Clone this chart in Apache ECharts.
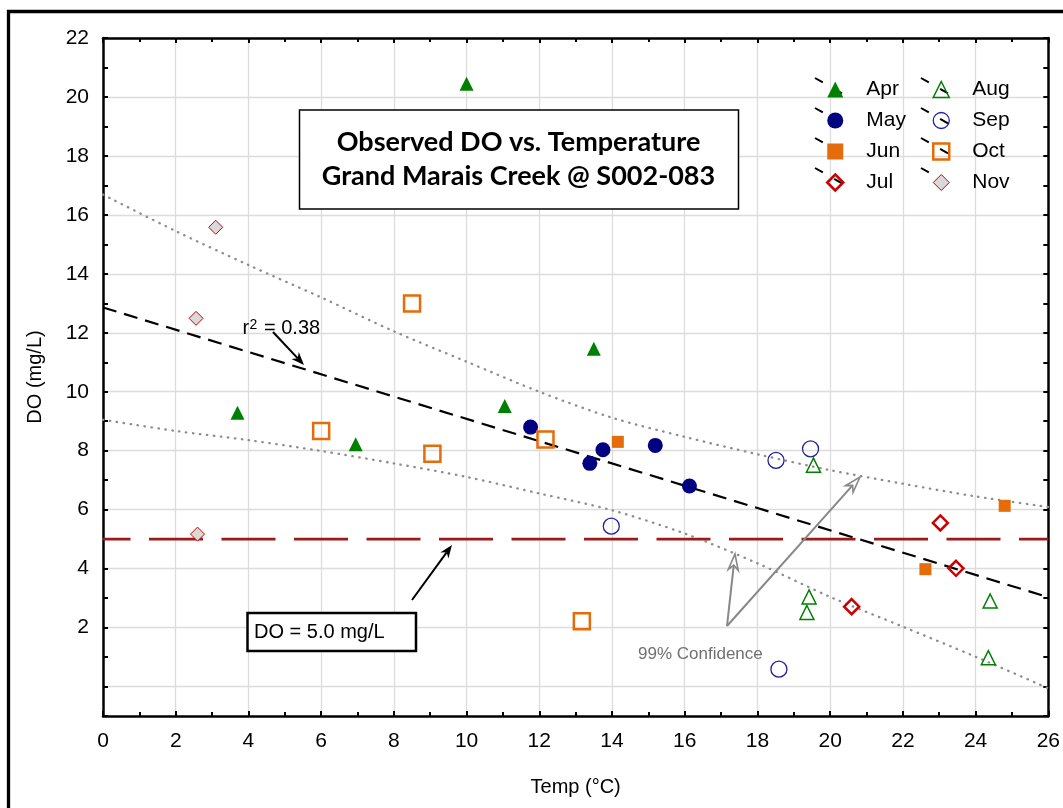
<!DOCTYPE html>
<html><head><meta charset="utf-8">
<script src="https://cdn.jsdelivr.net/npm/echarts@6/dist/echarts.min.js"></script>
<style>html,body{margin:0;padding:0;background:#fff}#c{width:1063px;height:808px}</style>
</head><body><div id="c"></div>
<script>
// ---- data ----
const xTicks = [0,2,4,6,8,10,12,14,16,18,20,22,24,26];
const yTickLabels = [2,4,6,8,10,12,14,16,18,20,22];
const aprData = [[10.0,20.45],[13.5,11.46],[11.05,9.52],[3.7,9.29],[6.95,8.22]];
const mayData = [[11.76,8.8],[13.75,8.03],[13.39,7.57],[15.19,8.18],[16.13,6.8]];
const junData = [[14.16,8.3],[22.62,3.98],[24.8,6.13]];
const julData = [[23.03,5.55],[23.46,4.01],[20.59,2.71]];
const augData = [[19.54,7.51],[19.42,3.04],[19.36,2.51],[24.4,2.9],[24.35,0.98]];
const sepData = [[18.51,7.67],[19.46,8.06],[13.98,5.44],[18.59,0.59]];
const octData = [[8.5,12.99],[6.0,8.67],[9.06,7.9],[12.17,8.38],[13.17,2.21]];
const novData = [[3.1,15.58],[2.56,12.49],[2.6,5.17]];
const regX = [0, 26];
const regY = [12.86, 3.03];
const bandX = [0,2,4,6,8,10,12,14,16,18,20,22,24,26];
const upperY = [16.69,15.45,14.3,13.2,12.05,11.02,10.0,9.12,8.47,7.88,7.34,6.88,6.45,6.09];
const lowerY = [9.05,8.67,8.36,7.99,7.57,7.11,6.55,5.98,5.19,4.18,3.04,2.03,1.01,-0.06];
const doLimitX = [0, 26];
const doLimitY = [5.0, 5.0];

const FONT = '"Liberation Sans", Arial, sans-serif';
const zip = (xs, ys) => xs.map((x, i) => [x, ys[i]]);

const months = [
  {name:'Apr', data:aprData, symbol:'triangle', size:14, style:{color:'#008000'}},
  {name:'May', data:mayData, symbol:'circle', size:15, style:{color:'#000080'}},
  {name:'Jun', data:junData, symbol:'rect', size:12, style:{color:'#E46C0A'}},
  {name:'Jul', data:julData, symbol:'diamond', size:15, style:{color:'rgba(0,0,0,0)', borderColor:'#CC0000', borderWidth:2.5}},
  {name:'Aug', data:augData, symbol:'triangle', size:14, style:{color:'rgba(0,0,0,0)', borderColor:'#008000', borderWidth:1.5}},
  {name:'Sep', data:sepData, symbol:'circle', size:16, style:{color:'rgba(0,0,0,0)', borderColor:'#22229a', borderWidth:1.3}},
  {name:'Oct', data:octData, symbol:'rect', size:16, style:{color:'rgba(0,0,0,0)', borderColor:'#E46C0A', borderWidth:2.5}},
  {name:'Nov', data:novData, symbol:'diamond', size:14, style:{color:'#D9D9D9', borderColor:'#CC0000', borderWidth:1}}
];

const chart = echarts.init(document.getElementById('c'));

const series = [
  {type:'line', name:'upper', data:zip(bandX, upperY), smooth:0.3, symbol:'none', z:2, silent:true,
   lineStyle:{color:'#8c8c8c', width:2.3, type:[0.5,6.5], cap:'round'}},
  {type:'line', name:'lower', data:zip(bandX, lowerY), smooth:0.3, symbol:'none', z:2, silent:true,
   lineStyle:{color:'#8c8c8c', width:2.3, type:[0.5,6.5], cap:'round'}},
  {type:'line', name:'reg', data:zip(regX, regY), symbol:'none', z:3, silent:true,
   lineStyle:{color:'#000', width:2.2, type:[14,8]}},
  {type:'line', name:'do5', data:zip(doLimitX, doLimitY), symbol:'none', z:3, silent:true,
   lineStyle:{color:'#9c1a1a', width:2.6, type:[54,18.5], dashOffset:26.5}}
];
months.forEach(m => series.push({
  type:'scatter', name:m.name, data:m.data, symbol:m.symbol, symbolSize:m.size,
  itemStyle:Object.assign({opacity:1}, m.style), z:5, silent:true
}));

function legendBlock(list, left) {
  return {
    show:true, orient:'vertical', left:left, top:79, padding:0, selectedMode:false,
    itemWidth:16, itemHeight:16, itemGap:10, z:10,
    textStyle:{fontFamily:FONT, fontSize:21, color:'#000', lineHeight:20, padding:[0,0,0,18]},
    data:list.map(m => ({name:m.name, icon:m.symbol,
      itemStyle:Object.assign({borderWidth:0, borderColor:'rgba(0,0,0,0)', opacity:1}, m.style)}))
  };
}

const axisLineStyle = {color:'#000', width:2.5};
const option = {
  animation:false,
  backgroundColor:'#fff',
  grid:{left:103, top:38, right:11, bottom:92, containLabel:false},
  legend:[legendBlock(months.slice(0,4), 826), legendBlock(months.slice(4), 932)],
  xAxis:[
    {type:'value', min:xTicks[0], max:xTicks[xTicks.length-1], interval:2, position:'bottom',
     name:'Temp (°C)', nameLocation:'middle', nameGap:61,
     nameTextStyle:{fontFamily:FONT, fontSize:20, color:'#000'},
     axisLine:{show:true, onZero:false, lineStyle:axisLineStyle},
     axisTick:{show:true, inside:true, length:5, lineStyle:{color:'#000', width:2}},
     minorTick:{show:true, splitNumber:2, length:4, lineStyle:{color:'#000', width:2}},
     axisLabel:{fontFamily:FONT, fontSize:21, color:'#000', margin:15},
     splitLine:{show:true, lineStyle:{color:'#dcdcdc', width:1.3}}},
    {type:'value', min:xTicks[0], max:xTicks[xTicks.length-1], interval:2, position:'top',
     axisLine:{show:true, onZero:false, lineStyle:axisLineStyle},
     axisTick:{show:true, inside:true, length:5, lineStyle:{color:'#000', width:2}},
     minorTick:{show:true, splitNumber:2, length:4, lineStyle:{color:'#000', width:2}},
     axisLabel:{show:false}, splitLine:{show:false}}
  ],
  yAxis:[
    {type:'value', min:-1, max:22, interval:1, position:'left',
     name:'DO (mg/L)', nameLocation:'middle', nameGap:58,
     nameTextStyle:{fontFamily:FONT, fontSize:20, color:'#000'},
     axisLine:{show:true, onZero:false, lineStyle:axisLineStyle},
     axisTick:{show:true, inside:true, length:5, lineStyle:{color:'#000', width:2}},
     axisLabel:{fontFamily:FONT, fontSize:21, color:'#000', margin:14,
       formatter:v => yTickLabels.indexOf(v) >= 0 ? String(v) : ''},
     splitLine:{show:true, showMinLine:true, lineStyle:{color:['rgba(0,0,0,0)','#dcdcdc'], width:1.3}}},
    {type:'value', min:-1, max:22, interval:1, position:'right',
     axisLine:{show:true, onZero:false, lineStyle:axisLineStyle},
     axisTick:{show:true, inside:true, length:5, lineStyle:{color:'#000', width:2}},
     axisLabel:{show:false}, splitLine:{show:false}}
  ],
  series:series
};
chart.setOption(option);

// ---- annotations ----
function arrow(x1, y1, x2, y2, color, filled, L, W) {
  const dx = x2 - x1, dy = y2 - y1, len = Math.hypot(dx, dy);
  const ux = dx / len, uy = dy / len, nx = -uy, ny = ux;
  const bx = x2 - L * ux, by = y2 - L * uy;
  const notch = [x2 - 0.7 * L * ux, y2 - 0.7 * L * uy];
  const pts = [[x2, y2], [bx + W * nx, by + W * ny], notch, [bx - W * nx, by - W * ny]];
  return [
    {type:'line', shape:{x1:x1, y1:y1, x2:notch[0], y2:notch[1]}, style:{stroke:color, lineWidth:2}, z:10},
    {type:'polygon', shape:{points:pts}, style: filled ? {fill:color} : {fill:'#fff', stroke:color, lineWidth:1.6}, z:10}
  ];
}

const TITLE_FONT = 'bold 27px Lato, "Open Sans", sans-serif';
const graphics = [
  // outer frame (left and top)
  {type:'polyline', shape:{points:[[8.5,808],[8.5,11.5],[1063,11.5]]}, style:{stroke:'#000', lineWidth:3.3, fill:null}, z:20},
  // title box
  {type:'rect', shape:{x:299.5, y:110, width:439, height:99}, style:{fill:'#fff', stroke:'#000', lineWidth:1.5}, z:8},
  {type:'text', x:518.5, y:142, style:{text:'Observed DO vs. Temperature', font:TITLE_FONT, fill:'#000', align:'center', verticalAlign:'middle'}, z:9},
  {type:'text', x:518.5, y:176, style:{text:'Grand Marais Creek @ S002-083', font:TITLE_FONT, fill:'#000', align:'center', verticalAlign:'middle'}, z:9},
  // DO box
  {type:'rect', shape:{x:247.5, y:613, width:168.5, height:38}, style:{fill:'#fff', stroke:'#000', lineWidth:2.5}, z:8},
  {type:'text', x:254, y:632, style:{text:'DO = 5.0 mg/L', font:'20px ' + FONT, fill:'#000', align:'left', verticalAlign:'middle'}, z:9},
  // r^2 label
  {type:'text', x:242.5, y:328, style:{text:'r', font:'20px ' + FONT, fill:'#000', align:'left', verticalAlign:'middle'}, z:9},
  {type:'text', x:249.5, y:318, style:{text:'2', font:'14px ' + FONT, fill:'#000', align:'left', verticalAlign:'top'}, z:9},
  {type:'text', x:264, y:328, style:{text:'= 0.38', font:'20px ' + FONT, fill:'#000', align:'left', verticalAlign:'middle'}, z:9},
  // 99% confidence label
  {type:'text', x:638, y:654, style:{text:'99% Confidence', font:'17px ' + FONT, fill:'#707070', align:'left', verticalAlign:'middle'}, z:9}
];
arrow(273, 332, 304, 365, '#000', true, 13, 5).forEach(g => graphics.push(g));
arrow(412, 600, 452, 545, '#000', true, 13, 5).forEach(g => graphics.push(g));
arrow(727, 626, 735, 554, '#888', false, 16, 5).forEach(g => graphics.push(g));
arrow(727, 626, 860, 477, '#888', false, 16, 5).forEach(g => graphics.push(g));

// legend trend-line glyphs (dashed diagonal through each legend marker)
const legendCenters = [[834,89],[834,119],[834,149],[834,179],[940,89],[940,119],[940,149],[940,179]];
legendCenters.forEach(c => graphics.push({
  type:'line', shape:{x1:c[0]-19, y1:c[1]-11, x2:c[0]+18, y2:c[1]+10},
  style:{stroke:'#000', lineWidth:2, lineDash:[9,13]}, z:1
}));

chart.setOption({graphic:{elements:graphics}});
</script>
</body></html>
